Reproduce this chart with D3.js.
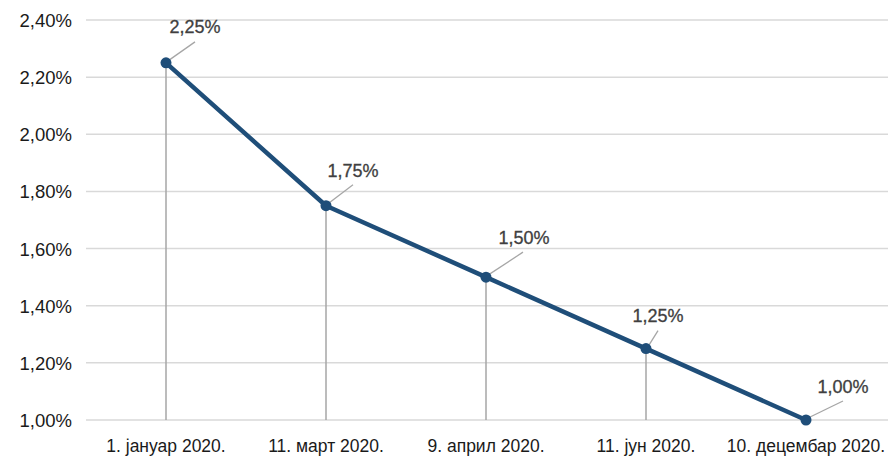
<!DOCTYPE html>
<html><head><meta charset="utf-8">
<script src="https://cdn.jsdelivr.net/npm/d3@7"></script>
<style>body{margin:0;background:#fff}svg{display:block}text{font-family:"Liberation Sans",Arial,sans-serif}</style>
</head><body><svg id="c" width="888" height="459"></svg>
<script>
const categories = ["1. јануар 2020.", "11. март 2020.", "9. април 2020.", "11. јун 2020.", "10. децембар 2020."];
const values = [2.25, 1.75, 1.50, 1.25, 1.00];
const yTicks = [1.0, 1.2, 1.4, 1.6, 1.8, 2.0, 2.2, 2.4];
const labelDx = [29, 27, 38, 12, 37];
const labelDy = [-30, -29, -33, -27, -27];
const leaderDx = [29, 27, 37, 12, 37];
const leaderDy = [-21, -21, -25, -18, -19];

const fmt = v => v.toFixed(2).replace(".", ",") + "%";
const svg = d3.select("#c");
const x = d3.scaleBand().domain(categories).range([86, 886]);
const y = d3.scaleLinear().domain([1.0, 2.4]).range([420, 20]);
const cx = c => x(c) + x.bandwidth() / 2;

svg.append("g").selectAll("line").data(yTicks).join("line")
  .attr("x1", 86).attr("x2", 888).attr("y1", d => y(d)).attr("y2", d => y(d))
  .attr("stroke", "#d9d9d9").attr("stroke-width", 1.5);
svg.append("g").selectAll("text").data(yTicks).join("text")
  .attr("x", 72).attr("y", d => y(d) + 7).attr("text-anchor", "end")
  .attr("font-size", 18.5).attr("fill", "#1a1a1a").text(d => fmt(d));
svg.append("g").selectAll("text").data(categories).join("text")
  .attr("x", d => cx(d)).attr("y", 452).attr("text-anchor", "middle")
  .attr("font-size", 17.5).attr("fill", "#1a1a1a").text(d => d);

// drop lines
svg.append("g").selectAll("line").data(values).join("line")
  .attr("x1", (d, i) => cx(categories[i])).attr("x2", (d, i) => cx(categories[i]))
  .attr("y1", d => y(d)).attr("y2", y(1.0))
  .attr("stroke", "#a6a6a6").attr("stroke-width", 1.5);

// leader lines
svg.append("g").selectAll("line").data(values).join("line")
  .attr("x1", (d, i) => cx(categories[i]) + 2).attr("y1", d => y(d) - 2)
  .attr("x2", (d, i) => cx(categories[i]) + leaderDx[i]).attr("y2", (d, i) => y(d) + leaderDy[i])
  .attr("stroke", "#a6a6a6").attr("stroke-width", 1.3);

const line = d3.line().x((d, i) => cx(categories[i])).y(d => y(d));
svg.append("path").datum(values).attr("d", line)
  .attr("fill", "none").attr("stroke", "#1f4e79").attr("stroke-width", 4.5).attr("stroke-linejoin", "round");
svg.append("g").selectAll("circle").data(values).join("circle")
  .attr("cx", (d, i) => cx(categories[i])).attr("cy", d => y(d)).attr("r", 5.5)
  .attr("fill", "#1f4e79");

svg.append("g").selectAll("text").data(values).join("text")
  .attr("x", (d, i) => cx(categories[i]) + labelDx[i]).attr("y", (d, i) => y(d) + labelDy[i])
  .attr("text-anchor", "middle").attr("font-size", 18).attr("fill", "#404040")
  .attr("stroke", "#404040").attr("stroke-width", 0.3)
  .text(d => fmt(d));
</script></body></html>
